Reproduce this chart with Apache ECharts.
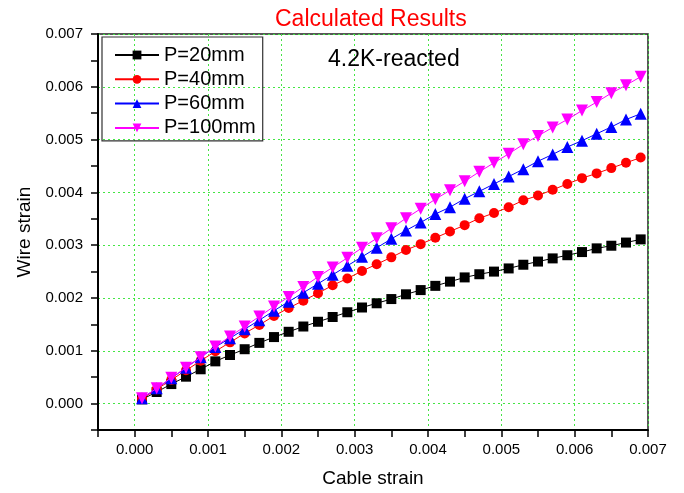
<!DOCTYPE html>
<html>
<head>
<meta charset="utf-8">
<script src="https://cdn.jsdelivr.net/npm/echarts@6/dist/echarts.min.js"></script>
<style>
  html, body { margin: 0; padding: 0; background: #fff; }
  #chart { width: 684px; height: 493px; }
</style>
</head>
<body>
<div id="chart"></div>
<script>
// cable strain (x) of every calculated point
var cableStrain = [0.0001, 0.0003, 0.0005, 0.0007, 0.0009, 0.0011, 0.0013, 0.0015, 0.0017, 0.0019,
    0.0021, 0.0023, 0.0025, 0.0027, 0.0029, 0.0031, 0.0033, 0.0035, 0.0037, 0.0039,
    0.0041, 0.0043, 0.0045, 0.0047, 0.0049, 0.0051, 0.0053, 0.0055, 0.0057, 0.0059,
    0.0061, 0.0063, 0.0065, 0.0067, 0.0069];

// wire strain for each twist pitch
var wireP20 = [0.00008, 0.00022, 0.00037, 0.00051, 0.00065, 0.00080, 0.00092, 0.00103, 0.00115, 0.00126,
    0.00136, 0.00146, 0.00155, 0.00164, 0.00173, 0.00182, 0.00190, 0.00198, 0.00207, 0.00215,
    0.00223, 0.00231, 0.00239, 0.00245, 0.00250, 0.00256, 0.00263, 0.00269, 0.00275, 0.00281,
    0.00287, 0.00294, 0.00299, 0.00305, 0.00311];
var wireP40 = [0.00009, 0.00027, 0.00045, 0.00063, 0.00081, 0.00099, 0.00116, 0.00133, 0.00149, 0.00166,
    0.00181, 0.00195, 0.00209, 0.00224, 0.00237, 0.00251, 0.00264, 0.00277, 0.00291, 0.00302,
    0.00314, 0.00326, 0.00338, 0.00351, 0.00361, 0.00372, 0.00385, 0.00394, 0.00405, 0.00416,
    0.00427, 0.00436, 0.00446, 0.00456, 0.00466];
var wireP60 = [0.00010, 0.00029, 0.00048, 0.00068, 0.00088, 0.00107, 0.00124, 0.00141, 0.00158, 0.00176,
    0.00193, 0.00210, 0.00227, 0.00244, 0.00261, 0.00278, 0.00295, 0.00312, 0.00328, 0.00343,
    0.00359, 0.00372, 0.00388, 0.00402, 0.00416, 0.00430, 0.00444, 0.00459, 0.00472, 0.00486,
    0.00498, 0.00511, 0.00524, 0.00538, 0.00549];
var wireP100 = [0.00010, 0.00029, 0.00049, 0.00068, 0.00088, 0.00108, 0.00127, 0.00146, 0.00165, 0.00184,
    0.00202, 0.00221, 0.00240, 0.00258, 0.00276, 0.00295, 0.00313, 0.00332, 0.00351, 0.00369,
    0.00387, 0.00404, 0.00421, 0.00439, 0.00456, 0.00473, 0.00491, 0.00507, 0.00523, 0.00538,
    0.00555, 0.00571, 0.00588, 0.00603, 0.00619];

var seriesNames = ['P=20mm', 'P=40mm', 'P=60mm', 'P=100mm'];
var seriesColors = ['#000000', '#ff0000', '#0000ff', '#ff00ff'];

function pairs(ys) {
    return cableStrain.map(function (x, i) { return [x, ys[i]]; });
}

// only every second tick (0.000, 0.001, ...) gets a label and a grid line
function wholeTick(v) {
    return Math.round(v * 10000) % 10 === 0;
}

var gridGreen = '#45e645';
var font = 'Liberation Sans, Arial, sans-serif';

var myChart = echarts.init(document.getElementById('chart'));
var options = {
    backgroundColor: '#fff',
    animation: false,
    title: [{
        text: 'Calculated Results',
        left: 270,
        top: 3,
        textStyle: { color: '#ff0000', fontSize: 23, fontWeight: 'normal', fontFamily: font }
    }, {
        text: '4.2K-reacted',
        left: 323,
        top: 43,
        textStyle: { color: '#000', fontSize: 23, fontWeight: 'normal', fontFamily: font }
    }],
    grid: {
        left: 98,
        right: 36,
        top: 34,
        bottom: 56,
        show: true,
        borderColor: '#222',
        borderWidth: 1.5
    },
    legend: {
        orient: 'vertical',
        left: 102,
        top: 37,
        itemWidth: 44,
        itemHeight: 11,
        itemGap: 4.3,
        padding: [8, 7, 3, 12],
        borderColor: '#333',
        borderWidth: 1.2,
        textStyle: { fontSize: 20, fontFamily: font, color: '#000', lineHeight: 20 },
        data: seriesNames
    },
    xAxis: {
        type: 'value',
        min: -0.0005,
        max: 0.007,
        interval: 0.0005,
        name: 'Cable strain',
        nameLocation: 'middle',
        nameGap: 39,
        nameTextStyle: { fontSize: 19, fontFamily: font, color: '#000' },
        axisLine: { onZero: false, lineStyle: { color: '#000', width: 2 } },
        axisTick: { length: 7, lineStyle: { color: '#000', width: 1.5 } },
        axisLabel: {
            fontSize: 15, fontFamily: font, color: '#000', margin: 12,
            formatter: function (v) { return wholeTick(v) ? v.toFixed(3) : ''; }
        },
        splitLine: {
            show: true,
            lineStyle: { color: ['rgba(0,0,0,0)', gridGreen], type: [2, 3], width: 1 }
        }
    },
    yAxis: {
        type: 'value',
        min: -0.0005,
        max: 0.007,
        interval: 0.0005,
        name: 'Wire strain',
        nameLocation: 'middle',
        nameGap: 64,
        nameTextStyle: { fontSize: 19, fontFamily: font, color: '#000' },
        axisLine: { show: true, onZero: false, lineStyle: { color: '#000', width: 2 } },
        axisTick: { show: true, length: 7, lineStyle: { color: '#000', width: 1.5 } },
        axisLabel: {
            fontSize: 15, fontFamily: font, color: '#000', margin: 15,
            formatter: function (v) { return (v > -0.0000001 && wholeTick(v)) ? v.toFixed(3) : ''; }
        },
        splitLine: {
            show: true,
            lineStyle: { color: ['rgba(0,0,0,0)', gridGreen], type: [2, 3], width: 1 }
        }
    },
    series: [{
        name: seriesNames[0],
        type: 'line',
        data: pairs(wireP20),
        symbol: 'rect',
        symbolSize: 10,
        z: 2
    }, {
        name: seriesNames[1],
        type: 'line',
        data: pairs(wireP40),
        symbol: 'circle',
        symbolSize: 10,
        z: 3
    }, {
        name: seriesNames[2],
        type: 'line',
        data: pairs(wireP60),
        symbol: 'triangle',
        symbolSize: 12,
        z: 4
    }, {
        name: seriesNames[3],
        type: 'line',
        data: pairs(wireP100),
        symbol: 'triangle',
        symbolRotate: 180,
        symbolSize: 12,
        z: 5
    }].map(function (s, i) {
        s.color = seriesColors[i];
        s.lineStyle = { width: 1, color: seriesColors[i] };
        s.itemStyle = { color: seriesColors[i] };
        s.showAllSymbol = true;
        return s;
    })
};
myChart.setOption(options);
</script>
</body>
</html>
